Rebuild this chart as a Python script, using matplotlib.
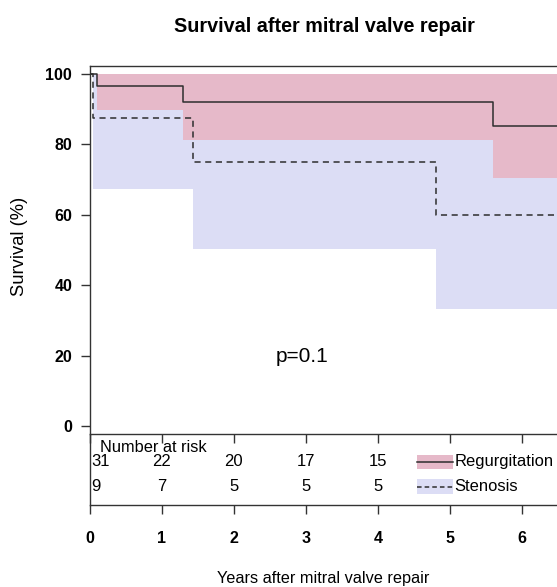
import matplotlib
matplotlib.use("Agg")
import matplotlib.pyplot as plt
from matplotlib.patches import Rectangle

plt.rcParams['font.family'] = ['Liberation Sans', 'DejaVu Sans']

# Kaplan-Meier estimates
reg_time = [0, 0.1, 1.3, 5.59]
reg_surv = [100, 96.7, 92.0, 85.3]
reg_lower = [100, 89.8, 81.4, 70.6]
reg_upper = [100, 100, 100, 100]

sten_time = [0, 0.045, 1.43, 4.8]
sten_surv = [100, 87.5, 75.0, 60.0]
sten_lower = [100, 67.3, 50.2, 33.1]
sten_upper = [100, 100, 100, 100]

# number at risk table
risk_times = [0, 1, 2, 3, 4]
reg_risk = [31, 22, 20, 17, 15]
sten_risk = [9, 7, 5, 5, 5]

x_ticks = [0, 1, 2, 3, 4, 5, 6]
y_ticks = [0, 20, 40, 60, 80, 100]
xmax = 7

W, H = 557, 587
fig = plt.figure(figsize=(W / 100, H / 100), dpi=100)

left = 89.5 / W
width = xmax * 72.1 / W
ax_tab = fig.add_axes([left, 1 - 505 / H, width, 71 / H])
ax = fig.add_axes([left, 1 - 434 / H, width, 368 / H])
ax_tab.set_facecolor('none')

pink = '#e6b9c9'
blue = '#dcddf5'
line_col = '#2e2e2e'


def ext(t, v):
    # carry the last value on to the right edge
    return list(t) + [xmax], list(v) + [v[-1]]


t, lo = ext(sten_time, sten_lower)
_, up = ext(sten_time, sten_upper)
ax.fill_between(t, lo, up, step='post', color=blue, lw=0, zorder=1)
t, lo = ext(reg_time, reg_lower)
_, up = ext(reg_time, reg_upper)
ax.fill_between(t, lo, up, step='post', color=pink, lw=0, zorder=2)

t, s = ext(reg_time, reg_surv)
ax.step(t, s, where='post', color=line_col, lw=1.1, zorder=3)
t, s = ext(sten_time, sten_surv)
ax.step(t, s, where='post', color=line_col, lw=1.1, ls=(0, (4, 3)), zorder=3)

ax.set_xlim(0, xmax)
ax.set_ylim(-2.3, 102.3)
ax.set_xticks(x_ticks)
ax.set_xticklabels([])
ax.set_yticks(y_ticks)
ax.set_yticklabels([str(v) for v in y_ticks], fontsize=11.5, fontweight='bold')
ax.tick_params(axis='both', direction='out', length=6.5, width=1, color='#333333', pad=6)
for sp in ax.spines.values():
    sp.set_color('#333333')
    sp.set_linewidth(1)
ax.spines['right'].set_visible(False)

ax.text(2.95, 19.6, 'p=0.1', fontsize=15, ha='center', va='center')

# risk table
ax_tab.set_xlim(0, xmax)
ax_tab.set_ylim(0, 1)
ax_tab.set_yticks([])
ax_tab.set_xticks(x_ticks)
ax_tab.set_xticklabels([str(v) for v in x_ticks], fontsize=11.5, fontweight='bold')
ax_tab.tick_params(axis='x', direction='out', length=6.5, width=1, color='#333333', pad=12)
ax_tab.spines['top'].set_visible(False)
ax_tab.spines['right'].set_visible(False)
for sp in ax_tab.spines.values():
    sp.set_color('#333333')
    sp.set_linewidth(1)

ax_tab.text(0.14, 0.81, 'Number at risk', fontsize=11.8, ha='left', va='center')
for i, (tt, a, b) in enumerate(zip(risk_times, reg_risk, sten_risk)):
    ha = 'left' if i == 0 else 'center'
    xx = 0.03 if i == 0 else tt
    ax_tab.text(xx, 0.61, str(a), fontsize=12, ha=ha, va='center')
    ax_tab.text(xx, 0.26, str(b), fontsize=12, ha=ha, va='center')

# legend drawn inside the table
ax_tab.add_patch(Rectangle((4.54, 0.61 - 0.1), 0.5, 0.2, color=pink, lw=0))
ax_tab.plot([4.54, 5.04], [0.61, 0.61], color=line_col, lw=1.1)
ax_tab.text(5.06, 0.61, 'Regurgitation', fontsize=11.9, ha='left', va='center')
ax_tab.add_patch(Rectangle((4.54, 0.26 - 0.1), 0.5, 0.2, color=blue, lw=0))
ax_tab.plot([4.54, 5.04], [0.26, 0.26], color=line_col, lw=1.1, ls=(0, (3, 2)))
ax_tab.text(5.06, 0.26, 'Stenosis', fontsize=11.9, ha='left', va='center')

fig.text(324.5 / W, 1 - 27 / H, 'Survival after mitral valve repair',
         fontsize=14.2, fontweight='bold', ha='center', va='center')
fig.text(323.6 / W, 1 - 578 / H, 'Years after mitral valve repair',
         fontsize=11.7, ha='center', va='center')
fig.text(20 / W, 1 - 246.5 / H, 'Survival (%)', fontsize=13.2,
         rotation=90, ha='center', va='center')

fig.savefig('out.png', dpi=100)
